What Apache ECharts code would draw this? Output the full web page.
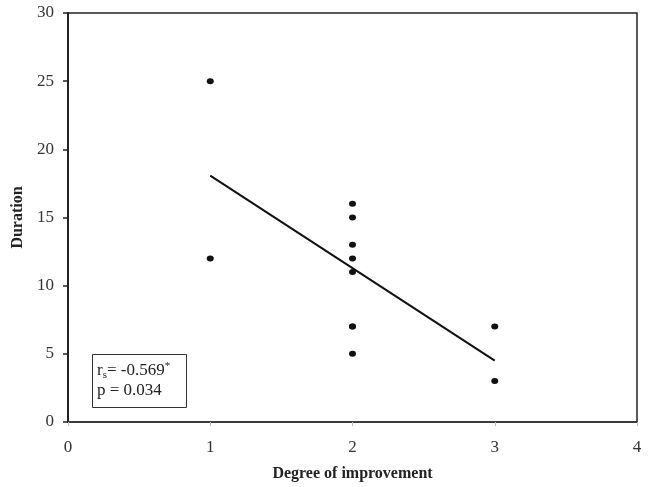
<!DOCTYPE html>
<html>
<head>
<meta charset="utf-8">
<script src="https://cdn.jsdelivr.net/npm/echarts@6/dist/echarts.min.js"></script>
<style>html,body{margin:0;padding:0;background:#fff}#c{width:650px;height:487px}</style>
</head>
<body>
<div id="c"></div>
<script>
var improvement = [1, 1, 2, 2, 2, 2, 2, 2, 2, 2, 3, 3];
var duration = [25, 12, 16, 15, 13, 12, 11, 7, 7, 5, 7, 3];
var fitX = [1, 3];
var fitY = [18.07, 4.5];
var xTicks = [0, 1, 2, 3, 4];
var yTicks = [0, 5, 10, 15, 20, 25, 30];
var annotation = { rs: '-0.569', p: '0.034' };

var font = '"Liberation Serif", "Times New Roman", serif';
var chart = echarts.init(document.getElementById('c'));
chart.setOption({
  animation: false,
  backgroundColor: '#fff',
  grid: { left: 68, top: 13, right: 13, bottom: 65, show: true, borderColor: '#222', borderWidth: 1.5, containLabel: false, outerBoundsMode: 'none' },
  xAxis: {
    type: 'value', min: xTicks[0], max: xTicks[xTicks.length - 1], interval: 1,
    name: 'Degree of improvement', nameLocation: 'middle', nameGap: 44,
    nameTextStyle: { fontFamily: font, fontWeight: 'bold', fontSize: 16, color: '#222' },
    axisLine: { show: true, lineStyle: { color: '#333', width: 1.5 } },
    axisTick: { show: true, length: 4, lineStyle: { color: '#bbb', width: 1 } },
    axisLabel: { fontFamily: font, fontSize: 17, color: '#333', margin: 17 },
    splitLine: { show: false }
  },
  yAxis: {
    type: 'value', min: yTicks[0], max: yTicks[yTicks.length - 1], interval: 5,
    name: 'Duration', nameLocation: 'middle', nameGap: 42,
    nameTextStyle: { fontFamily: font, fontWeight: 'bold', fontSize: 16, color: '#222' },
    axisLine: { show: true, lineStyle: { color: '#222', width: 2 } },
    axisTick: { show: true, length: 5, lineStyle: { color: '#222', width: 1.5 } },
    axisLabel: { fontFamily: font, fontSize: 17, color: '#333', margin: 14 },
    splitLine: { show: false }
  },
  series: [
    {
      type: 'scatter',
      data: improvement.map(function (x, i) { return [x, duration[i]]; }),
      symbol: 'circle', symbolSize: [7, 6],
      itemStyle: { color: '#111', opacity: 1 }, z: 3
    },
    {
      type: 'line',
      data: fitX.map(function (x, i) { return [x, fitY[i]]; }),
      symbol: 'none', lineStyle: { color: '#111', width: 2 }, z: 2
    }
  ],
  graphic: [
    {
      type: 'rect', left: 92, top: 354,
      shape: { width: 94, height: 53 },
      style: { fill: '#fff', stroke: '#333', lineWidth: 1 }
    },
    {
      type: 'text', left: 97, top: 361,
      style: {
        text: '{n|r}{sub|s}{n|= ' + annotation.rs + '}{sup|*}\n{n|p = ' + annotation.p + '}',
        fontFamily: font,
        rich: {
          n: { fontFamily: font, fontSize: 17, fill: '#222', lineHeight: 20 },
          sub: { fontFamily: font, fontSize: 11, fill: '#222', verticalAlign: 'bottom', lineHeight: 20, padding: [9, 0, 0, 0] },
          sup: { fontFamily: font, fontSize: 11, fill: '#222', verticalAlign: 'top', lineHeight: 20, padding: [0, 0, 8, 0] }
        }
      }
    }
  ]
});
</script>
</body>
</html>
